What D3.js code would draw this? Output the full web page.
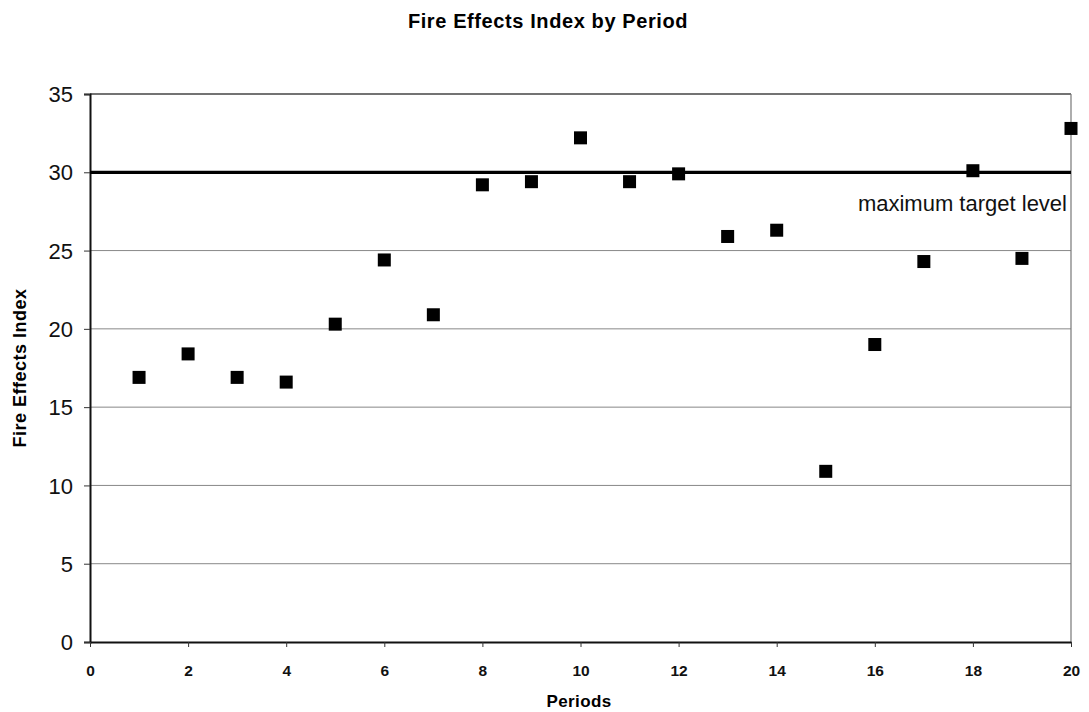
<!DOCTYPE html>
<html><head><meta charset="utf-8">
<script src="https://cdn.jsdelivr.net/npm/d3@7"></script>
<style>body{margin:0;background:#fff}svg{display:block;font-family:"Liberation Sans",Arial,sans-serif}</style>
</head><body><svg id="c" width="1089" height="712"></svg>
<script>
const periods = [1,2,3,4,5,6,7,8,9,10,11,12,13,14,15,16,17,18,19,20];
const fireIndex = [16.9,18.4,16.9,16.6,20.3,24.4,20.9,29.2,29.4,32.2,29.4,29.9,25.9,26.3,10.9,19.0,24.3,30.1,24.5,32.8];
const yTicks = [0,5,10,15,20,25,30,35];
const xTicks = [0,2,4,6,8,10,12,14,16,18,20];
const targetLevel = 30;
const targetLabel = "maximum target level";

const svg = d3.select("#c");
const L=90,R=1071,T=94,B=642;
const x = d3.scaleLinear().domain([0,20]).range([L,R]);
const y = d3.scaleLinear().domain([0,35]).range([B,T]);

svg.append("text").attr("x",548).attr("y",28).attr("text-anchor","middle")
  .attr("font-weight","bold").attr("font-size",20).attr("letter-spacing",0.6).text("Fire Effects Index by Period");

// grid
svg.append("g").selectAll("line").data(yTicks.filter(d=>d>0)).join("line")
  .attr("x1",L).attr("x2",R).attr("y1",d=>y(d)).attr("y2",d=>y(d))
  .attr("stroke",d=>d===35?"#444":"#888").attr("stroke-width",d=>d===35?1.5:1);
// right border
svg.append("line").attr("x1",R).attr("x2",R).attr("y1",T).attr("y2",B).attr("stroke","#777").attr("stroke-width",1.2);

// y axis
const ya = svg.append("g").attr("transform",`translate(${L},0)`)
  .call(d3.axisLeft(y).tickValues(yTicks).tickSize(6).tickPadding(11));
ya.select(".domain").attr("stroke","#111").attr("stroke-width",2);
ya.selectAll(".tick line").attr("stroke","#333");
ya.selectAll("text").attr("font-size",22).attr("font-family","Liberation Sans, Arial").attr("fill","#111").attr("dy","0.35em");

// x axis
const xa = svg.append("g").attr("transform",`translate(0,${B})`)
  .call(d3.axisBottom(x).tickValues(xTicks).tickSize(5).tickPadding(18).tickSizeOuter(0));
xa.select(".domain").attr("stroke","#111").attr("stroke-width",2.2);
xa.selectAll(".tick line").attr("stroke","#333");
xa.selectAll("text").attr("font-size",15.5).attr("font-weight","bold").attr("font-family","Liberation Sans, Arial").attr("fill","#111");

// target line
svg.append("line").attr("x1",L).attr("x2",R).attr("y1",y(targetLevel)).attr("y2",y(targetLevel))
  .attr("stroke","#000").attr("stroke-width",3.2);
svg.append("text").attr("x",R-4).attr("y",y(targetLevel)+39).attr("text-anchor","end")
  .attr("font-size",22).attr("fill","#111").text(targetLabel);

// points
const s=13;
svg.append("g").selectAll("rect").data(periods.map((p,i)=>[p,fireIndex[i]])).join("rect")
  .attr("x",d=>x(d[0])-s/2).attr("y",d=>y(d[1])-s/2).attr("width",s).attr("height",s).attr("fill","#000");

// axis titles
svg.append("text").attr("x",579).attr("y",707).attr("text-anchor","middle")
  .attr("font-weight","bold").attr("font-size",17).attr("letter-spacing",0.4).text("Periods");
svg.append("text").attr("transform",`translate(26,368) rotate(-90)`).attr("text-anchor","middle")
  .attr("font-weight","bold").attr("font-size",18).attr("letter-spacing",0.5).text("Fire Effects Index");
</script></body></html>
